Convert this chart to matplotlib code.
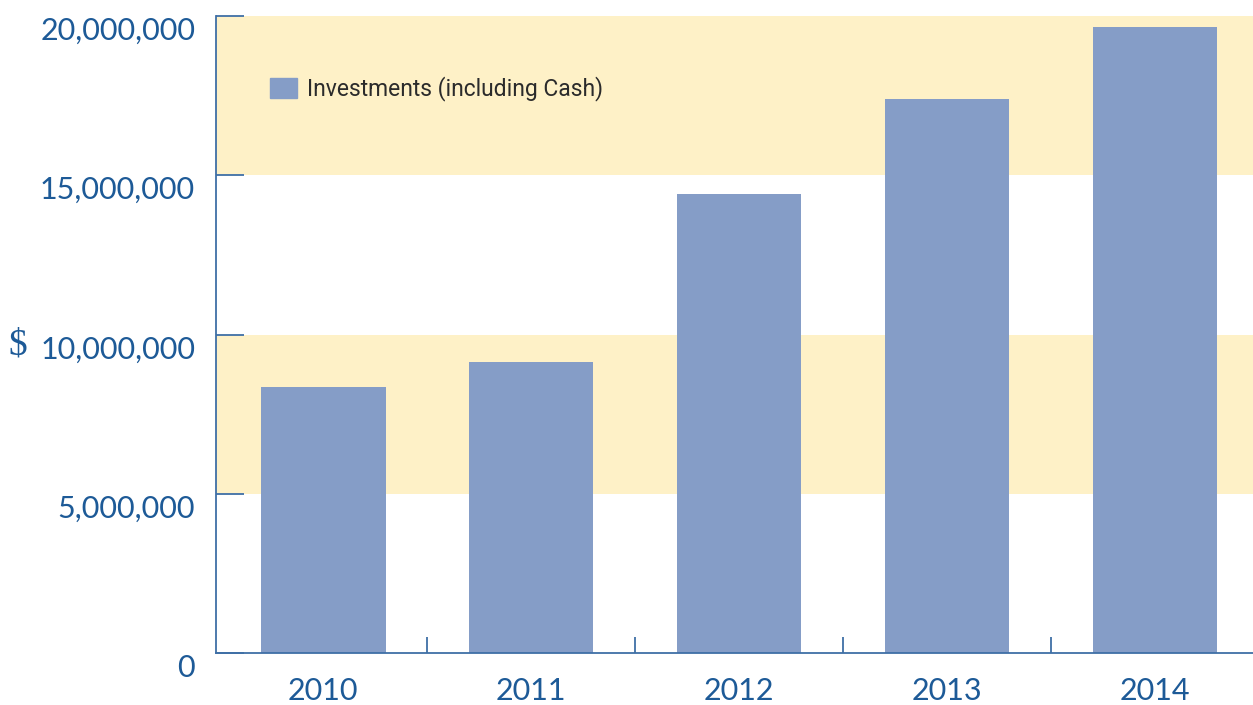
import matplotlib.pyplot as plt
from matplotlib.patches import Patch
from matplotlib.transforms import ScaledTranslation

years = ['2010', '2011', '2012', '2013', '2014']
investments = [8350000, 9140000, 14410000, 17390000, 19650000]
yticks = [0, 5000000, 10000000, 15000000, 20000000]
ytick_labels = ['0', '5,000,000', '10,000,000', '15,000,000', '20,000,000']
bands = [(5000000, 10000000), (15000000, 20000000)]

blue_txt = '#1d5a97'
spine_col = '#3f6fa6'
bar_col = '#859dc7'
band_col = '#fef1c7'
num_font = ['Lato', 'DejaVu Sans']

fig = plt.figure(figsize=(12.53, 7.05), dpi=100)
ax = fig.add_axes([216/1253, 52/705, 1037/1253, 637/705])

for lo, hi in bands:
    ax.axhspan(lo, hi, color=band_col, lw=0, zorder=0)

x = range(len(years))
ax.bar(x, investments, width=0.6, color=bar_col, zorder=2, label='Investments (including Cash)')

ax.set_xlim(-0.515, 4.471)
ax.set_ylim(0, 20000000)

for s in ['top', 'right']:
    ax.spines[s].set_visible(False)
for s in ['left', 'bottom']:
    ax.spines[s].set_color(spine_col)
    ax.spines[s].set_linewidth(1.3)

ax.set_yticks(yticks)
ax.set_yticklabels(ytick_labels, fontsize=22, color=blue_txt, family=num_font)
ax.tick_params(axis='y', direction='in', length=20, width=1.3, color=spine_col, pad=15)
for lbl in ax.get_yticklabels():
    lbl.set_transform(lbl.get_transform() + ScaledTranslation(0, -9/72, fig.dpi_scale_trans))

ax.set_xticks(list(x))
ax.set_xticklabels(years, fontsize=22, color=blue_txt, family=num_font)
ax.set_xticks([0.5, 1.5, 2.5, 3.5], minor=True)
ax.tick_params(axis='x', which='major', length=0, pad=17)
ax.tick_params(axis='x', which='minor', direction='in', length=11.5, width=1.3, color=spine_col)

fig.text(0.007, 1 - 345/705, '$', fontsize=27, color=blue_txt, family=['Liberation Serif', 'DejaVu Serif'], va='center')

leg = ax.legend(handles=[Patch(color=bar_col, label='Investments (including Cash)')],
                loc='upper left', bbox_to_anchor=(0.052, 0.905), frameon=False,
                prop={'family': ['Roboto', 'DejaVu Sans'], 'size': 16.5},
                handlelength=1.2, handleheight=1.0, handletextpad=0.4,
                borderpad=0, borderaxespad=0)
for t in leg.get_texts():
    t.set_color('#2b2b2b')

plt.savefig('out.png', dpi=100)
